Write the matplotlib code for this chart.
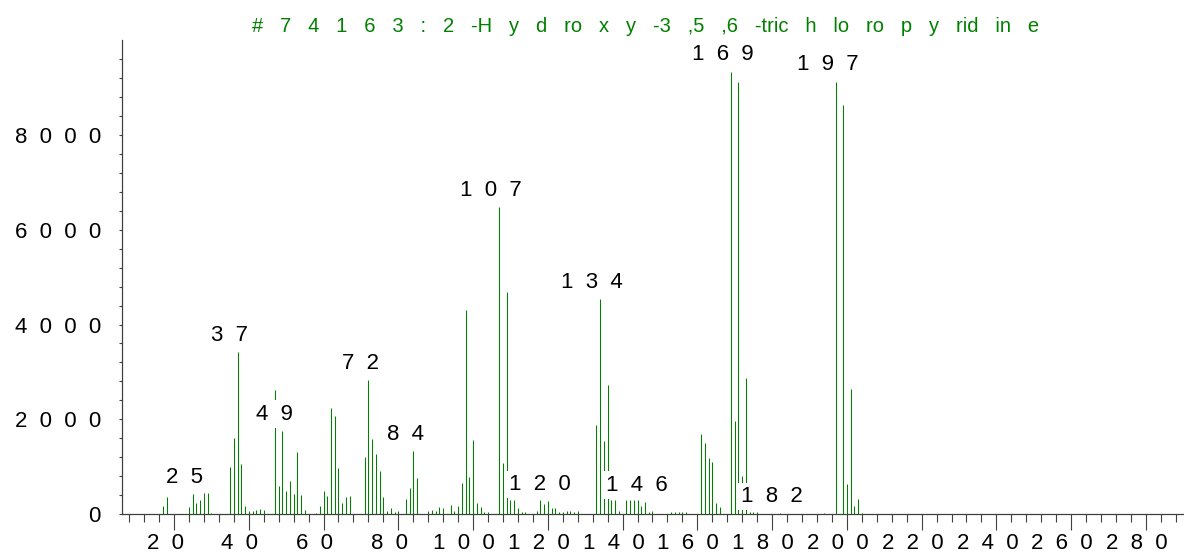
import matplotlib
matplotlib.use('Agg')
import matplotlib.pyplot as plt
import matplotlib.transforms as mtransforms
import numpy as np

plt.rcParams['font.family'] = ['Liberation Sans', 'DejaVu Sans']

# mass spectrum
mz = [17, 18, 24, 25, 26, 27, 28, 29, 30,
      35, 36, 37, 38, 39, 40, 41, 42, 43, 44,
      47, 48, 49, 50, 51, 52, 53, 54, 55,
      58, 59, 60, 61, 62, 63, 64, 65, 66, 67,
      71, 72, 73, 74, 75, 76, 77, 78, 79, 80,
      82, 83, 84, 85, 88, 89, 90, 91, 92,
      94, 95, 96, 97, 98, 99, 100, 101, 102, 103, 104,
      107, 108, 109, 110, 111, 112, 113, 114,
      117, 118, 119, 120, 121, 122, 123, 124, 125, 126, 127, 128,
      133, 134, 135, 136, 137, 138, 139,
      141, 142, 143, 144, 145, 146, 147, 148,
      153, 154, 155, 156, 157,
      161, 162, 163, 164, 165, 166,
      169, 170, 171, 172, 173, 174, 175, 176,
      182, 194,
      197, 199, 200, 201, 202, 203, 204]
intensity = [170, 360, 140, 416, 233, 296, 444, 444, 28,
             1000, 1608, 3420, 1058, 170, 63, 60, 85, 110, 90,
             2610, 592, 1757, 490, 698, 420, 1312, 410, 85,
             30, 162, 487, 381, 2243, 2074, 974, 233, 360, 381,
             1212, 2830, 1580, 1270, 910, 353, 70, 127, 40, 55,
             317, 557, 1326, 754, 55, 85, 63, 148, 120,
             183, 70, 176, 663, 4310, 780, 1566, 226, 155, 42, 42,
             6476, 1072, 4690, 296, 296, 120, 50, 40,
             60, 296, 219, 275, 127, 127, 50, 42, 63, 70, 35, 63,
             1883, 4530, 1545, 2725, 296, 296, 70,
             296, 296, 296, 296, 176, 260, 50, 60,
             40, 35, 35, 40, 35,
             1687, 1509, 1178, 1093, 226, 148,
             9340, 1954, 9128, 811, 2870, 50, 50, 50,
             20, 20,
             9128, 8635, 634, 2635, 176, 310, 25]

labelled = [25, 37, 49, 72, 84, 107, 120, 134, 146, 169, 182, 197]
xticks = [20, 40, 60, 80, 100, 120, 140, 160, 180, 200, 220, 240, 260, 280]
yticks = [0, 2000, 4000, 6000, 8000]
title_parts = ['#', '7', '4', '1', '6', '3', ':', '2', '-H', 'y', 'd', 'ro', 'x', 'y',
               '-3', ',5', ',6', '-tric', 'h', 'lo', 'ro', 'p', 'y', 'rid', 'in', 'e']

green = '#008000'
grey = '#404040'

def spaced(n):
    return '  '.join(str(n))

W, H = 1184, 554
fig = plt.figure(figsize=(W / 100, H / 100), dpi=100)
ax = fig.add_axes([121.7 / W, (H - 514) / H, (W - 121.7) / W, (514 - 40.3) / H])

ax.vlines(mz, 0, intensity, colors=green, linewidth=0.75)

ax.set_xlim(6, 290.2)
ax.set_ylim(0, 10000)
for s in ['top', 'right']:
    ax.spines[s].set_visible(False)
for s in ['left', 'bottom']:
    ax.spines[s].set_color(grey)
    ax.spines[s].set_linewidth(0.9)

ax.set_xticks(xticks)
ax.set_xticklabels([spaced(t) for t in xticks])
ax.set_xticks(np.arange(8, 290, 4), minor=True)
ax.set_yticks(yticks)
ax.set_yticklabels([spaced(t) for t in yticks])
ax.set_yticks(np.arange(0, 10000, 400), minor=True)

ax.tick_params(axis='x', which='major', length=11.5, width=0.8, color=grey, pad=2, labelsize=16)
ax.tick_params(axis='x', which='minor', length=5.8, width=0.8, color=grey)
ax.tick_params(axis='y', which='both', length=2.5, width=0.8, color=grey, pad=12.5, labelsize=16)

# labels sit a little left of their ticks in the original
off = mtransforms.ScaledTranslation(-0.09, 0, fig.dpi_scale_trans)
for lab in ax.get_xticklabels():
    lab.set_transform(lab.get_transform() + off)

for m in labelled:
    v = intensity[mz.index(m)]
    ax.annotate(spaced(m), xy=(m, v), xytext=(-5.8, 8), textcoords='offset points',
                ha='center', va='baseline', fontsize=16, color='black',
                bbox=dict(boxstyle='square,pad=0.15', fc='white', ec='none'))

fig.text(646 / W, 1 - 31.7 / H, '   '.join(title_parts), ha='center', va='baseline',
         color=green, fontsize=14.5)

fig.savefig('out.png', dpi=100)
